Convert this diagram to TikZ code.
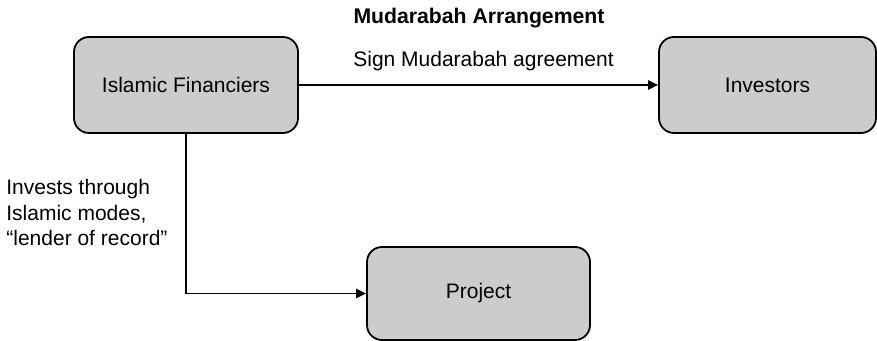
\documentclass[tikz,border=0pt]{standalone}
\usepackage{fontspec}
\setmainfont{Liberation Sans}
\usetikzlibrary{arrows.meta}
\begin{document}
\begin{tikzpicture}[x=0.5pt,y=-0.5pt,
  party/.style={draw=black, line width=0.9pt, fill=black!20, rounded corners=7.5pt,
    inner sep=0pt, font=\fontsize{10.5pt}{12.85pt}\selectfont},
  flow/.style={line width=0.8pt, -{Triangle[length=5pt,width=4.6pt]}},
  lbl/.style={inner sep=0pt, font=\fontsize{10.5pt}{12.85pt}\selectfont}]
\useasboundingbox (0,0) rectangle (877,341);
% title
\node[lbl, font=\fontsize{10.6pt}{12.85pt}\selectfont\bfseries] (title) at (479,18) {Mudarabah Arrangement};
% parties
\node[party, minimum width=112pt, minimum height=48pt] (fin) at (186,85) {Islamic Financiers};
\node[party, minimum width=108.5pt, minimum height=48pt] (inv) at (767.5,85) {Investors};
\node[party, minimum width=111.5pt, minimum height=46.5pt] (proj) at (478.5,293.5) {Project};
% connectors
\draw[flow] (fin.east) -- (inv.west);
\draw[flow] (fin.south) |- (proj.west);
% labels
\node[lbl] (sign) at (483.5,61) {Sign Mudarabah agreement};
\node[lbl, anchor=west, align=left] (invests) at (6,212.5) {Invests through\\Islamic modes,\\“lender of record”};
\end{tikzpicture}
\end{document}
